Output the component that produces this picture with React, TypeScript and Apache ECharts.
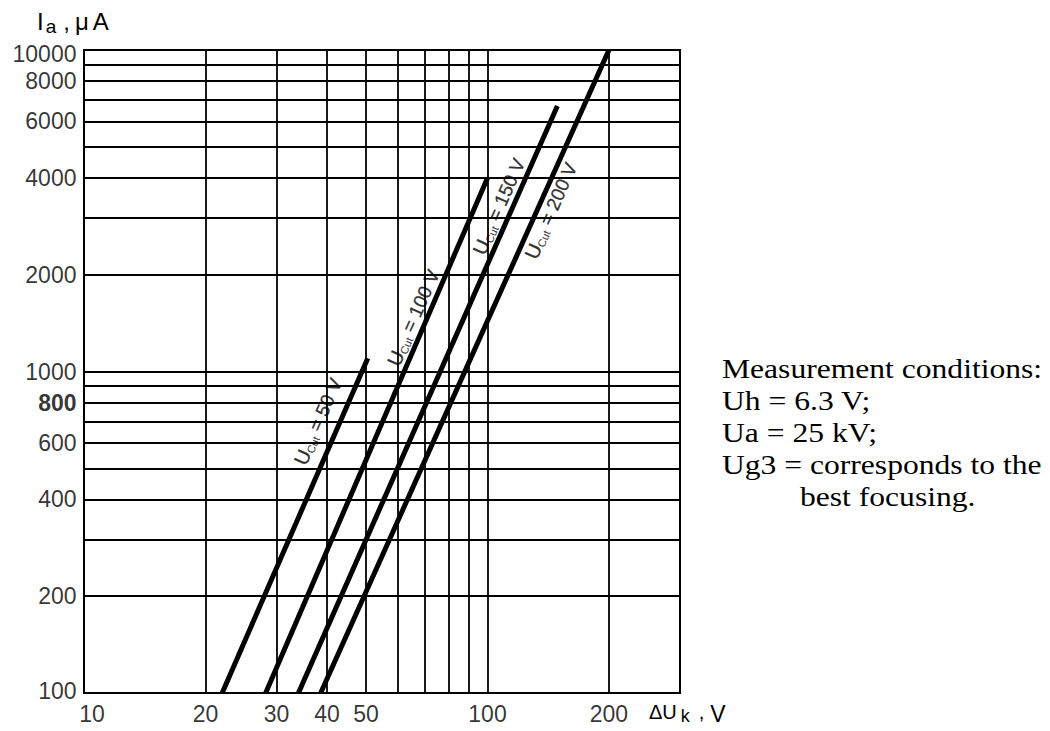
import React, { useEffect, useRef } from "react";
import * as echarts from "echarts";

// ---- data ----
const xGridValues = [20, 30, 40, 50, 60, 70, 80, 90, 100, 200];
const yGridValues = [200, 300, 400, 500, 600, 700, 800, 900, 1000, 2000, 3000, 4000, 5000, 6000, 7000, 8000, 9000];
const xTickLabels = [10, 20, 30, 40, 50, 100, 200];
const yTickLabels = [100, 200, 400, 600, 800, 1000, 2000, 4000, 6000, 8000, 10000];
const boldYTick = 800;

const cutVoltages = ["50 V", "100 V", "150 V", "200 V"];
const cut50 = [[22, 100], [50.5, 1100]];
const cut100 = [[28.2, 100], [100, 4000]];
const cut150 = [[34, 100], [149, 6700]];
const cut200 = [[38.6, 100], [200, 10000]];
const curves = [cut50, cut100, cut150, cut200];
const curveLabelAt = [[38.2, 697], [65.8, 1466], [107.2, 3251], [144.2, 3155]];

const conditionLines = [
  "Measurement conditions:",
  "Uh = 6.3 V;",
  "Ua = 25 kV;",
  "Ug3 = corresponds to the",
  "best focusing.",
];

const SANS = "'Liberation Sans', Arial, sans-serif";
const SERIF = "'Liberation Serif', 'Times New Roman', serif";
const CLEAR = "rgba(0,0,0,0)";

export default function App() {
  const ref = useRef<HTMLDivElement>(null);
  useEffect(() => {
    if (!ref.current) return;
    const chart = echarts.init(ref.current, undefined, { renderer: "svg" });

    const tok = (size: number, lh: number, extra: any = {}) => ({
      fontSize: size,
      fontFamily: SANS,
      color: "#000",
      textBorderWidth: 0,
      verticalAlign: "top",
      lineHeight: lh,
      ...extra,
    });

    const series: any[] = [];
    series.push({
      type: "line",
      data: [],
      z: 1,
      silent: true,
      markLine: {
        silent: true,
        symbol: ["none", "none"],
        animation: false,
        label: { show: false },
        lineStyle: { color: "#000", width: 1.8, type: "solid" },
        data: [
          ...xGridValues.map((v) => ({ xAxis: v })),
          ...yGridValues.map((v) => ({ yAxis: v })),
        ],
      },
    });
    series.push({
      type: "scatter",
      z: 2,
      silent: true,
      clip: false,
      symbolSize: 1,
      itemStyle: { color: CLEAR },
      data: curveLabelAt.map((p, i) => ({
        value: p,
        label: { formatter: "{u|U}{s|Cut}{m| = " + cutVoltages[i] + "}" },
      })),
      label: {
        show: true,
        position: "inside",
        rotate: 66,
        backgroundColor: "#fff",
        padding: [2, 4],
        color: "#000",
        textBorderWidth: 0,
        rich: {
          u: tok(20, 21, { textBorderColor: "#000", textBorderWidth: 0.3 }),
          s: tok(11, 11, { padding: [9, 0, 0, 0] }),
          m: tok(19, 21, { textBorderColor: "#000", textBorderWidth: 0.3 }),
        },
      },
    });
    curves.forEach((c, i) => {
      series.push({
        type: "line",
        name: "Ucut = " + cutVoltages[i],
        data: c,
        z: 3,
        clip: false,
        symbol: "none",
        silent: true,
        lineStyle: { color: "#000", width: 5, cap: "butt" },
      });
    });
    series.push({
      type: "scatter",
      z: 4,
      silent: true,
      clip: false,
      symbolSize: 1,
      itemStyle: { color: CLEAR },
      data: xTickLabels.map((v) => ({
        value: [v, 100],
        label: v === 10 ? { offset: [8, 0] } : undefined,
      })),
      label: {
        show: true,
        position: "bottom",
        distance: 9,
        formatter: (p: any) => String(p.value[0]),
        fontSize: 23,
        fontFamily: SANS,
        color: "#000",
        textBorderWidth: 0,
      },
    });
    series.push({
      type: "scatter",
      z: 4,
      silent: true,
      clip: false,
      symbolSize: 1,
      itemStyle: { color: CLEAR },
      data: yTickLabels.map((v) => ({
        value: [10, v],
        label:
          v === boldYTick
            ? { fontWeight: "bold" }
            : v === 10000
            ? { offset: [0, 4] }
            : v === 100
            ? { offset: [0, -2] }
            : undefined,
      })),
      label: {
        show: true,
        position: "left",
        distance: 7,
        formatter: (p: any) => String(p.value[1]),
        fontSize: 23,
        fontFamily: SANS,
        color: "#000",
        textBorderWidth: 0,
      },
    });

    const graphic: any[] = [
      {
        type: "text",
        x: 37,
        y: 9,
        style: {
          text: "{i|I}{a|a}{c|,}{m|μ}{A|A}",
          fill: "#000",
          rich: {
            i: tok(24, 24),
            a: tok(19, 19, { padding: [8, 0, 0, 2] }),
            c: tok(24, 24, { padding: [0, 0, 0, 7] }),
            m: tok(24, 24, { padding: [0, 0, 0, 5] }),
            A: tok(24, 24, { padding: [0, 0, 0, 4] }),
          },
        },
      },
      {
        type: "text",
        x: 649,
        y: 702,
        style: {
          text: "{d|ΔU}{k|k}{c|,}{v|V}",
          fill: "#000",
          rich: {
            d: tok(20, 20),
            k: tok(18, 18, { padding: [5, 0, 0, 4] }),
            c: tok(20, 20, { padding: [0, 0, 0, 9] }),
            v: tok(23, 20, { padding: [0, 0, 0, 6] }),
          },
        },
      },
    ];
    const condY = [369, 401, 433, 465, 497];
    conditionLines.forEach((t, i) => {
      graphic.push({
        type: "text",
        x: i === 4 ? 800 : 722,
        y: condY[i],
        scaleX: 1.17,
        style: {
          text: t,
          fontSize: 27,
          fontFamily: SERIF,
          fill: "#000",
          verticalAlign: "middle",
          align: "left",
        },
      });
    });

    chart.setOption({
      animation: false,
      backgroundColor: "#fff",
      grid: {
        left: 84,
        top: 50,
        right: 370,
        bottom: 38,
        show: true,
        borderColor: "#000",
        borderWidth: 2,
        backgroundColor: "transparent",
      },
      xAxis: {
        type: "log",
        logBase: 10,
        min: 10,
        max: 300,
        axisLine: { show: false },
        axisTick: { show: false },
        axisLabel: { show: false },
        splitLine: { show: false },
      },
      yAxis: {
        type: "log",
        logBase: 10,
        min: 100,
        max: 10000,
        axisLine: { show: false },
        axisTick: { show: false },
        axisLabel: { show: false },
        splitLine: { show: false },
      },
      series,
      graphic,
    });
    return () => chart.dispose();
  }, []);
  return (
    <div
      ref={ref}
      style={{ position: "absolute", left: 0, top: 0, width: 1050, height: 731, background: "#fff" }}
    />
  );
}
